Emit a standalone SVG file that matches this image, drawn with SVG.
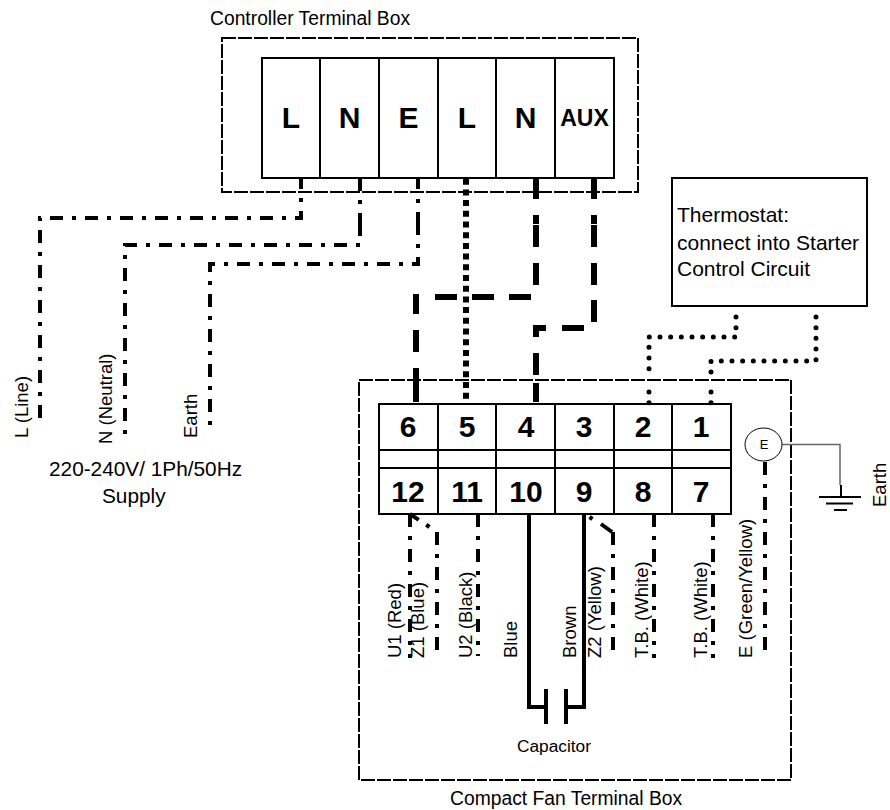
<svg xmlns="http://www.w3.org/2000/svg" width="890" height="810" viewBox="0 0 890 810">
<style>
text{font-family:"Liberation Sans",Arial,sans-serif;fill:#000}
.l{font-size:18.5px}
.c{font-size:19.300px}
.s{font-size:20.8px}
.h{font-size:21px}
.t{font-size:30px;font-weight:bold;text-anchor:middle}
.aux{font-size:23px;font-weight:bold;text-anchor:middle}
.box{fill:#fff;stroke:#000;stroke-width:2}
.enc{fill:none;stroke:#000;stroke-width:2;stroke-dasharray:14 2}
.div{fill:none;stroke:#000;stroke-width:2}
.w{fill:none;stroke:#000}
.dd{stroke-width:4;stroke-dasharray:13 9 4 9}
.p{stroke-width:4}
.dot{stroke-width:6;stroke-dasharray:6 4.7}
.dash{stroke-width:6}
.rd{stroke-width:5;stroke-linecap:round;stroke-dasharray:0 10.67}
.sol{stroke-width:4}
</style>
<g id="controller-box">
<rect class="enc" x="222" y="38" width="416" height="154"/>
<rect class="box" x="262" y="58" width="352" height="120"/>
<path class="div" d="M320 58V178M379 58V178M438 58V178M496 58V178M555 58V178"/>
<text class="t" x="291" y="128">L</text><text class="t" x="349.500" y="128">N</text><text class="t" x="408.500" y="128">E</text><text class="t" x="467" y="128">L</text><text class="t" x="525.500" y="128">N</text>
<text class="aux" x="584.500" y="126">AUX</text>
<text class="c" x="210" y="25">Controller Terminal Box</text>
</g>
<g id="fan-box">
<rect class="enc" x="359" y="380" width="432" height="400"/>
<rect class="box" x="379" y="404" width="352" height="110"/>
<path class="div" d="M379 450H731M379 468H731M438 404V514M496 404V514M555 404V514M614 404V514M672 404V514"/>
<text class="t" x="408" y="437">6</text><text class="t" x="467" y="437">5</text><text class="t" x="526" y="437">4</text><text class="t" x="584" y="437">3</text><text class="t" x="643" y="437">2</text><text class="t" x="701" y="437">1</text>
<text class="t" x="408" y="502">12</text><text class="t" x="467" y="502">11</text><text class="t" x="526" y="502">10</text><text class="t" x="584" y="502">9</text><text class="t" x="643" y="502">8</text><text class="t" x="701" y="502">7</text>
<text class="c" x="450" y="805">Compact Fan Terminal Box</text>
</g>
<g id="thermostat">
<rect class="box" x="672" y="178" width="195" height="128"/>
<text class="h" x="677" y="222">Thermostat:</text>
<text class="h" x="677" y="250">connect into Starter</text>
<text class="h" x="677" y="276">Control Circuit</text>
</g>
<g id="connectors">
<path class="w dd" d="M40 418V218H301V177"/>
<path class="w p" d="M360 178V191M360 200V204M360 213V236"/>
<path class="w dd" stroke-dashoffset="22" d="M360 245H125V437"/>
<path class="w p" d="M418 177V189M418 199V203M418 212V235"/>
<path class="w dd" stroke-dashoffset="22" d="M418 244V264H210V430"/>
<path class="w dot" d="M466 178.700V400"/>
<path class="w dash" d="M536 178V199M536 215V224M536 225V247M536 263V285M531 297H509M494 297H472M457 297H435M416 294V314M416 330V352M416 368V402"/>
<path class="w dash" d="M594 178V199M594 215V224M594 225V247M594 263V285M594 300V322M584 328H562M546 328H536V337M536 353V375M536 383V402"/>
<path class="w rd" d="M736 317V337H649V373M649 392V403"/>
<path class="w rd" d="M816 317V361H711V376M711 392V403"/>
<path class="w dd" d="M410 514V658"/>
<path class="w dd" d="M437 650V532L410 514"/>
<path class="w dd" d="M478 514V656"/>
<path class="w dd" d="M613 650V532"/>
<path class="w p" d="M601 524L612 532M589.500 517L592.500 519"/>
<path class="w dd" d="M654 514V658"/>
<path class="w dd" d="M713 514V658"/>
<path class="w dd" d="M765 462V650"/>
<path class="w sol" d="M529 514V707H546M584 514V707H566"/>
<path class="w sol" d="M546 689V724M566 689V724"/>
<path d="M782 444.500H840V485" fill="none" stroke="#666" stroke-width="1.500"/>
</g>
<g id="earth-terminal">
<ellipse cx="763.500" cy="444.500" rx="18.500" ry="16.500" fill="#fff" stroke="#000" stroke-width="1"/>
<text x="764" y="449" style="font-size:13px;text-anchor:middle">E</text>
</g>
<g id="ground">
<path d="M841 485V497M819 497H861M826 503.500H853M834 510H847" fill="none" stroke="#000" stroke-width="2"/>
<text class="l" transform="translate(886 507) rotate(-90)">Earth</text>
</g>
<g id="labels">
<text class="l" transform="translate(28 438) rotate(-90)">L (Line)</text>
<text class="l" transform="translate(112 444) rotate(-90)">N (Neutral)</text>
<text class="l" transform="translate(197 438) rotate(-90)">Earth</text>
<text class="s" x="49" y="476">220-240V/ 1Ph/50Hz</text>
<text class="s" x="102" y="503">Supply</text>
<text class="l" transform="translate(401 658) rotate(-90)">U1 (Red)</text>
<text class="l" transform="translate(424 658) rotate(-90)">Z1 (Blue)</text>
<text class="l" transform="translate(472 658) rotate(-90)">U2 (Black)</text>
<text class="l" transform="translate(517 658) rotate(-90)">Blue</text>
<text class="l" transform="translate(576 658) rotate(-90)">Brown</text>
<text class="l" transform="translate(601 658) rotate(-90)">Z2 (Yellow)</text>
<text class="l" transform="translate(648 658) rotate(-90)">T.B. (White)</text>
<text class="l" transform="translate(707 658) rotate(-90)">T.B. (White)</text>
<text class="l" transform="translate(752 658) rotate(-90)">E (Green/Yellow)</text>
<text x="517" y="752" style="font-size:17.300px">Capacitor</text>
</g>
</svg>
